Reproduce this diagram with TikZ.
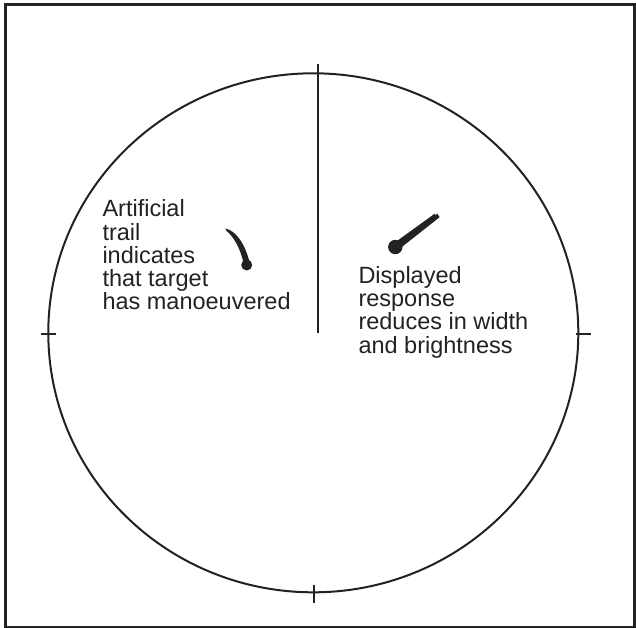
\documentclass[tikz,border=0pt]{standalone}
\usepackage{fontspec}
\setmainfont{Liberation Sans}
\definecolor{ink}{HTML}{222222}
\tikzset{
  lbl/.style={anchor=base west, inner sep=0pt, text=ink, font=\fontsize{23.5}{23.3}\selectfont},
  tick/.style={draw=ink, line width=1.4pt},
  blip/.style={fill=ink, draw=none}
}
\begin{document}
\begin{tikzpicture}[x=1pt, y=-1pt]
\useasboundingbox (0,0) rectangle (636,627);
% frame
\draw[ink, line width=3pt] (5.5,4.5) rectangle (634.5,627);
% scope circle
\coordinate (c) at (313.3,332.8);
\draw[ink, line width=2pt] (c) ellipse [x radius=265, y radius=259.5];
% radial line
\coordinate (rtop) at (317.7,64);
\coordinate (rbot) at (317.7,333);
\draw[ink, line width=1.8pt] (rtop) -- (rbot);
% ticks
\coordinate (tl1) at (41,334); \coordinate (tl2) at (56,334);
\coordinate (tr1) at (576,334); \coordinate (tr2) at (591,334);
\coordinate (tb1) at (314,585); \coordinate (tb2) at (314,603);
\draw[tick] (tl1) -- (tl2);
\draw[tick] (tr1) -- (tr2);
\draw[tick] (tb1) -- (tb2);
% left blip with artificial trail
\fill[blip] (225.3,228.5) .. controls (236,230.5) and (245,244) .. (249.5,262)
  -- (243.5,263) .. controls (240.5,249) and (234,237) .. (226.5,230.8) -- cycle;
\fill[blip] (246.7,265) circle [radius=5.5];
% right blip with reducing response
\fill[blip] (397.6,250.3) -- (439.6,217.2) -- (437.2,213.4) -- (435.5,215.5) -- (434.8,213.6) -- (392.8,244) -- cycle;
\fill[blip] (395.3,247) circle [radius=7.2];
% left text
\node[lbl] (l1) at (102.3,216.7) {Artificial};
\node[lbl] (l2) at (102.3,240.0) {trail};
\node[lbl] (l3) at (102.3,263.3) {indicates};
\node[lbl] (l4) at (102.3,286.6) {that target};
\node[lbl] (l5) at (102.3,309.9) {has manoeuvered};
% right text
\node[lbl] (r1) at (358.3,283.3) {Displayed};
\node[lbl] (r2) at (358.3,306.6) {response};
\node[lbl] (r3) at (358.3,329.9) {reduces in width};
\node[lbl] (r4) at (358.3,353.2) {and brightness};
\end{tikzpicture}
\end{document}
